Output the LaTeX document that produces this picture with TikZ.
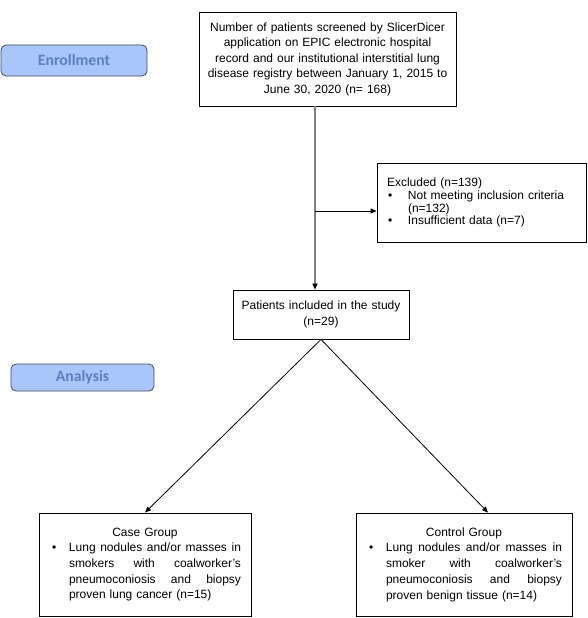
\documentclass[tikz,border=0pt]{standalone}
\usepackage{fontspec}
\setmainfont{Liberation Sans}
\newfontfamily\pillfont{Carlito}
\usepackage{tikz}
\usetikzlibrary{arrows.meta}
\definecolor{PillBlue}{HTML}{A9C6FB}
\definecolor{PillText}{HTML}{5B7FBF}
\definecolor{PillEdge}{HTML}{3F4A5C}
\definecolor{TrunkGray}{HTML}{808080}
\newcommand{\bulletmark}{\makebox[20pt][l]{\hspace{3pt}\textbullet}}
\newcommand{\hangline}{\hspace*{20pt}}

\begin{document}
\begin{tikzpicture}[x=1pt,y=-1pt,
box/.style={draw,line width=0.8pt,inner xsep=3pt,inner ysep=0pt,font=\fontsize{12}{15.5}\selectfont},
pill/.style={draw=PillEdge,line width=0.8pt,fill=PillBlue,rounded corners=5pt,text=PillText,font=\pillfont\bfseries\fontsize{15.7}{18}\selectfont},
arr/.style={-{Triangle[length=6pt,width=5pt]},line width=0.8pt}
]
\useasboundingbox (0,0) rectangle (587,618);
\node[box,text width=251pt,align=center,minimum height=94pt] (screen) at (327.5,59) {Number of patients screened by SlicerDicer\\application on EPIC electronic hospital\\record and our institutional interstitial lung\\disease registry between January 1, 2015 to\\June 30, 2020 (n= 168)};
\node[pill,minimum width=146pt,minimum height=31pt] (enroll) at (74,60.5) {Enrollment};
\node[box,inner xsep=10pt,text width=189pt,align=left,minimum height=79pt,font=\fontsize{12}{12.8}\selectfont] (excl) at (481.5,202.5) {Excluded (n=139)\\\makebox[21pt][l]{\hspace{1pt}\textbullet}Not meeting inclusion criteria\\\hspace*{21pt}(n=132)\\\makebox[21pt][l]{\hspace{1pt}\textbullet}Insufficient data (n=7)};
\node[box,text width=170pt,align=center,minimum height=49pt,font=\fontsize{12}{16}\selectfont] (incl) at (321,314.5) {Patients included in the study\\(n=29)};
\node[pill,minimum width=143pt,minimum height=27pt] (analysis) at (82.5,377.5) {Analysis};
\node[box,inner xsep=10pt,text width=192pt,align=center,minimum height=103pt,font=\fontsize{12}{15.7}\selectfont] (case) at (145,564.5) {Case Group\\\bulletmark\makebox[172pt][l]{Lung\hfill nodules\hfill and/or\hfill masses\hfill in}\\\hangline\makebox[172pt][l]{smokers\hfill with\hfill coalworker's}\\\hangline\makebox[172pt][l]{pneumoconiosis\hfill and\hfill biopsy}\\\hangline\makebox[172pt][l]{proven lung cancer (n=15)}};
\node[box,inner xsep=10pt,text width=196pt,align=center,minimum height=103pt,font=\fontsize{12}{15.7}\selectfont] (ctrl) at (464,564.5) {Control Group\\\bulletmark\makebox[176pt][l]{Lung\hfill nodules\hfill and/or\hfill masses\hfill in}\\\hangline\makebox[176pt][l]{smoker\hfill with\hfill coalworker's}\\\hangline\makebox[176pt][l]{pneumoconiosis\hfill and\hfill biopsy}\\\hangline\makebox[176pt][l]{proven benign tissue (n=14)}};
\coordinate (branch) at (315,211);
\draw[draw=TrunkGray,line width=1.6pt,-{Triangle[length=6pt,width=5pt,color=black]}] (screen.south -| branch) -- (incl.north -| branch);
\draw[arr] (branch) -- (branch -| excl.west);
\draw[arr] (incl.south) -- (case.north);
\draw[arr] (incl.south) -- ([xshift=24pt]ctrl.north);
\end{tikzpicture}
\end{document}
